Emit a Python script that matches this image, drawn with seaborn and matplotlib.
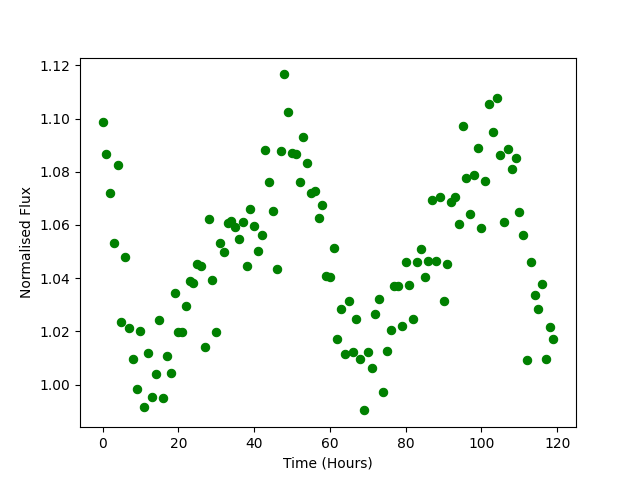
import matplotlib
matplotlib.use('Agg')
import matplotlib.pyplot as plt
import seaborn as sns

time_hours = [
    0, 1, 2, 3, 4, 5, 6, 7, 8, 9,
    10, 11, 12, 13, 14, 15, 16, 17, 18, 19,
    20, 21, 22, 23, 24, 25, 26, 27, 28, 29,
    30, 31, 32, 33, 34, 35, 36, 37, 38, 39,
    40, 41, 42, 43, 44, 45, 46, 47, 48, 49,
    50, 51, 52, 53, 54, 55, 56, 57, 58, 59,
    60, 61, 62, 63, 64, 65, 66, 67, 68, 69,
    70, 71, 72, 73, 74, 75, 76, 77, 78, 79,
    80, 81, 82, 83, 84, 85, 86, 87, 88, 89,
    90, 91, 92, 93, 94, 95, 96, 97, 98, 99,
    100, 101, 102, 103, 104, 105, 106, 107, 108, 109,
    110, 111, 112, 113, 114, 115, 116, 117, 118, 119,
]

flux = [
    1.0986, 1.0865, 1.0722, 1.0533, 1.0824, 1.0234, 1.0478, 1.0211, 1.0098, 0.9985,
    1.0203, 0.9914, 1.0117, 0.9955, 1.0038, 1.0241, 0.9951, 1.0106, 1.0042, 1.0346,
    1.0196, 1.0196, 1.0294, 1.0388, 1.0382, 1.0452, 1.0444, 1.0143, 1.0621, 1.0392,
    1.0196, 1.0534, 1.0497, 1.0606, 1.0616, 1.0593, 1.0549, 1.0610, 1.0444, 1.0659,
    1.0595, 1.0504, 1.0561, 1.0880, 1.0760, 1.0651, 1.0433, 1.0877, 1.1166, 1.1026,
    1.0869, 1.0865, 1.0760, 1.0929, 1.0832, 1.0722, 1.0726, 1.0625, 1.0674, 1.0408,
    1.0403, 1.0512, 1.0173, 1.0286, 1.0114, 1.0313, 1.0122, 1.0245, 1.0098, 0.9903,
    1.0124, 1.0061, 1.0267, 1.0320, 0.9974, 1.0128, 1.0207, 1.0369, 1.0369, 1.0222,
    1.0459, 1.0373, 1.0245, 1.0459, 1.0508, 1.0404, 1.0463, 1.0692, 1.0463, 1.0707,
    1.0316, 1.0452, 1.0685, 1.0704, 1.0602, 1.0971, 1.0775, 1.0640, 1.0786, 1.0888,
    1.0587, 1.0764, 1.1053, 1.0948, 1.1076, 1.0862, 1.0613, 1.0884, 1.0809, 1.0850,
    1.0648, 1.0561, 1.0091, 1.0459, 1.0335, 1.0286, 1.0380, 1.0098, 1.0215, 1.0170,
]

fig, ax = plt.subplots(figsize=(6.4, 4.8), dpi=100)

sns.scatterplot(x=time_hours, y=flux, color='green', edgecolor='green',
                s=36, linewidth=0.8, ax=ax)

ax.set_xlabel('Time (Hours)')
ax.set_ylabel('Normalised Flux')

plt.savefig('out.png', dpi=100)
